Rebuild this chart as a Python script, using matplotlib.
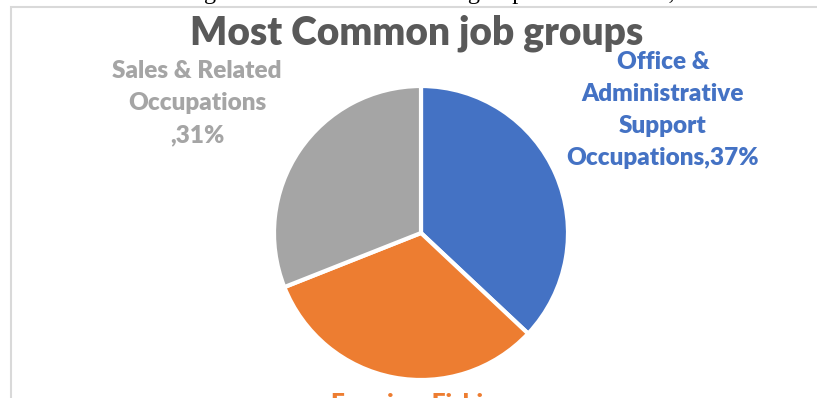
import matplotlib
matplotlib.use("Agg")
import matplotlib.pyplot as plt
from matplotlib.patches import Rectangle
from matplotlib.transforms import Affine2D

# ---- data ----
categories = ["Office & Administrative Support Occupations",
              "Farming, Fishing & Forestry Occupations",
              "Sales & Related Occupations"]
values = [37, 32, 31]
label_texts = ["Office &\nAdministrative\nSupport\nOccupations,37%",
               "Farming, Fishing\n& Forestry\nOccupations,32%",
               "Sales & Related\nOccupations\n,31%"]
colors = ["#4472C4", "#ED7D31", "#A5A5A5"]
title = "Most Common job groups"
doc_line = "showing the most common career groups in the district,"

W, H = 817, 398
fig = plt.figure(figsize=(W / 100, H / 100), dpi=100)
px = Affine2D().scale(1 / W, 1 / H) + fig.transFigure  # pixel coords, origin bottom-left

def P(x, y):
    return x / W, (H - y) / H

# chart frame
fig.patches.append(Rectangle((11, -20), 900, H - 7 + 20, transform=px, fill=False,
                             edgecolor="#D9D9D9", linewidth=1.5))

# cut-off document text line at top
fig.text(134 / W, (H + 1.5) / H, doc_line, family="Liberation Serif", fontsize=17.5,
         color="black", ha="left", va="baseline")

# pie
cx, cy, r = 421, 233, 147
ax = fig.add_axes([(cx - r) / W, (H - cy - r) / H, 2 * r / W, 2 * r / H])
ax.pie(values, colors=colors, startangle=90, counterclock=False, radius=1,
       wedgeprops=dict(edgecolor="white", linewidth=3))
ax.set_xlim(-1, 1)
ax.set_ylim(-1, 1)
ax.set_aspect("auto")
ax.axis("off")

font = "Lato"
wt = "heavy"
fig.text(*P(417, 33), title, family=font, fontweight=wt, fontsize=28,
         color="#595959", ha="center", va="center")

fig.text(*P(663, 110), label_texts[0], family=font, fontweight=wt, fontsize=17.5,
         color=colors[0], ha="center", va="center", linespacing=1.55)
fig.text(*P(197, 103), label_texts[2], family=font, fontweight=wt, fontsize=17.5,
         color=colors[2], ha="center", va="center", linespacing=1.55)
fig.text(*P(420, 393), label_texts[1], family=font, fontweight=wt, fontsize=17.5,
         color=colors[1], ha="center", va="top", linespacing=1.55)

fig.savefig("out.png", dpi=100)
